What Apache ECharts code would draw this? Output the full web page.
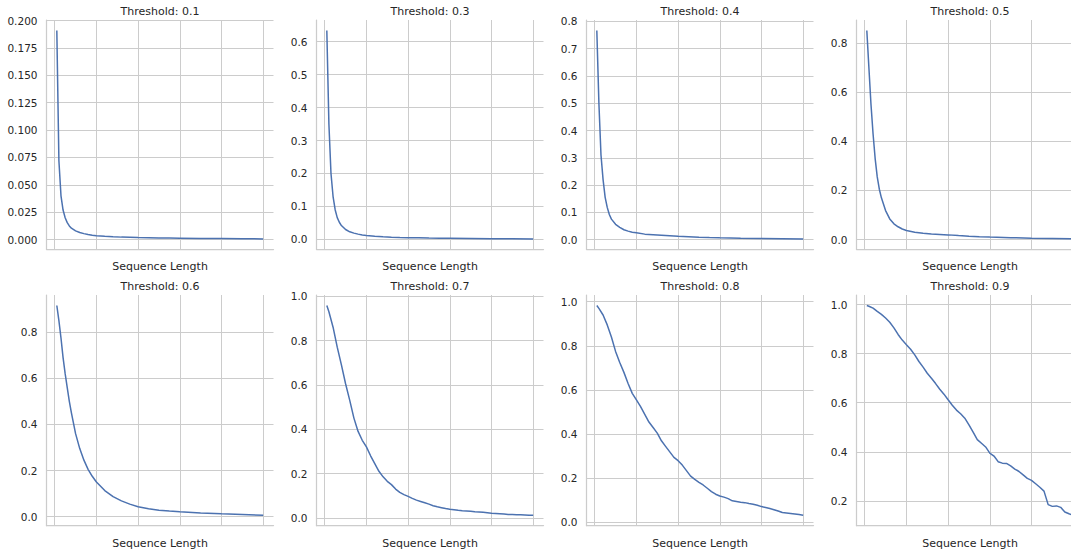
<!DOCTYPE html>
<html>
<head>
<meta charset="utf-8">
<script src="https://cdn.jsdelivr.net/npm/echarts@6/dist/echarts.min.js"></script>
<style>
  html, body { margin: 0; padding: 0; background: #ffffff; }
  #chart { width: 1071px; height: 553px; }
</style>
</head>
<body>
<div id="chart"></div>
<script>
// Sequence lengths (x values). Smooth decays use a sparse grid, the noisier ones a denser grid.
const seqLenSparse = [1, 2, 3, 4, 5, 6, 7, 8, 10, 12, 14, 16, 18, 20, 24, 28, 32, 36, 40, 45, 50, 55, 60, 70, 80, 90, 100];
const seqLenDense = [1, 2, 4, 6, 8, 10, 12, 14, 16, 18, 20, 22, 24, 26, 28, 30, 32, 34, 36, 38, 40,
  42, 44, 46, 48, 50, 52, 54, 56, 58, 60, 62, 64, 66, 68, 70, 72, 74, 76, 78, 80,
  82, 84, 86, 88, 90, 92, 94, 96, 98, 100];

// Fraction of sequences still above each threshold
const thr01 = [0.191, 0.072, 0.040, 0.027, 0.020, 0.0155, 0.0125, 0.0105, 0.0080, 0.0065, 0.0055, 0.0047, 0.0041, 0.0036,
  0.0030, 0.0026, 0.0023, 0.0021, 0.0019, 0.0017, 0.0015, 0.0014, 0.0013, 0.0011, 0.0010, 0.0008, 0.0007];
const thr03 = [0.634, 0.35, 0.20, 0.13, 0.09, 0.066, 0.052, 0.042, 0.030, 0.023, 0.019, 0.016, 0.0135, 0.012,
  0.0095, 0.008, 0.0068, 0.006, 0.0053, 0.0047, 0.0042, 0.0038, 0.0034, 0.0028, 0.0023, 0.0019, 0.0016];
const thr04 = [0.767, 0.50, 0.31, 0.22, 0.155, 0.118, 0.092, 0.075, 0.056, 0.045, 0.036, 0.031, 0.027, 0.025,
  0.020, 0.018, 0.016, 0.014, 0.012, 0.0105, 0.009, 0.0078, 0.0068, 0.0053, 0.0042, 0.0033, 0.0026];
const thr05 = [0.852, 0.70, 0.55, 0.43, 0.33, 0.255, 0.205, 0.17, 0.118, 0.084, 0.064, 0.052, 0.043, 0.037,
  0.030, 0.026, 0.023, 0.021, 0.019, 0.016, 0.0135, 0.0115, 0.010, 0.0075, 0.0055, 0.004, 0.0027];
const thr06 = [0.916, 0.85, 0.775, 0.69, 0.62, 0.56, 0.50, 0.45, 0.36, 0.295, 0.245, 0.205, 0.175, 0.15,
  0.113, 0.087, 0.068, 0.054, 0.043, 0.034, 0.028, 0.024, 0.021, 0.016, 0.012, 0.009, 0.006];
const thr07 = [0.958, 0.93, 0.86, 0.77, 0.69, 0.605, 0.53, 0.45, 0.39, 0.35, 0.32, 0.28, 0.245, 0.21, 0.185, 0.165,
  0.15, 0.13, 0.115, 0.105, 0.097, 0.088, 0.08, 0.074, 0.068, 0.062, 0.055, 0.05, 0.046, 0.042, 0.039,
  0.037, 0.034, 0.032, 0.031, 0.030, 0.028, 0.027, 0.025, 0.023, 0.021, 0.020, 0.019, 0.017, 0.015, 0.015,
  0.014, 0.014, 0.013, 0.012, 0.012];
const thr08 = [0.983, 0.97, 0.94, 0.895, 0.84, 0.775, 0.725, 0.68, 0.63, 0.585, 0.555, 0.525, 0.49, 0.455, 0.43, 0.405,
  0.37, 0.345, 0.32, 0.295, 0.28, 0.26, 0.235, 0.21, 0.195, 0.182, 0.17, 0.155, 0.14, 0.128, 0.12,
  0.115, 0.108, 0.098, 0.095, 0.092, 0.09, 0.086, 0.083, 0.078, 0.072, 0.068, 0.063, 0.058, 0.052, 0.045,
  0.043, 0.041, 0.039, 0.036, 0.033];
const thr09 = [0.996, 0.993, 0.985, 0.972, 0.96, 0.945, 0.928, 0.905, 0.878, 0.855, 0.836, 0.818, 0.795, 0.768, 0.745, 0.72,
  0.70, 0.678, 0.655, 0.635, 0.612, 0.59, 0.57, 0.555, 0.537, 0.51, 0.48, 0.45, 0.435, 0.42, 0.395,
  0.383, 0.36, 0.354, 0.353, 0.343, 0.33, 0.32, 0.306, 0.292, 0.284, 0.27, 0.256, 0.24, 0.185, 0.178,
  0.18, 0.174, 0.155, 0.148, 0.142];

// Tick positions
const xTicks = [0, 20, 40, 60, 80, 100];
const ticks01 = [0, 0.025, 0.05, 0.075, 0.1, 0.125, 0.15, 0.175, 0.2];
const ticks03 = [0, 0.1, 0.2, 0.3, 0.4, 0.5, 0.6];
const ticks04 = [0, 0.1, 0.2, 0.3, 0.4, 0.5, 0.6, 0.7, 0.8];
const ticks05 = [0, 0.2, 0.4, 0.6, 0.8];
const ticks10 = [0, 0.2, 0.4, 0.6, 0.8, 1.0];
const ticks09 = [0.2, 0.4, 0.6, 0.8, 1.0];

const titles = ['Threshold: 0.1', 'Threshold: 0.3', 'Threshold: 0.4', 'Threshold: 0.5',
  'Threshold: 0.6', 'Threshold: 0.7', 'Threshold: 0.8', 'Threshold: 0.9'];

const panels = [
  { x: seqLenSparse, y: thr01, ticks: ticks01, digits: 3 },
  { x: seqLenSparse, y: thr03, ticks: ticks03, digits: 1 },
  { x: seqLenSparse, y: thr04, ticks: ticks04, digits: 1 },
  { x: seqLenSparse, y: thr05, ticks: ticks05, digits: 1 },
  { x: seqLenSparse, y: thr06, ticks: ticks05, digits: 1 },
  { x: seqLenDense, y: thr07, ticks: ticks10, digits: 1 },
  { x: seqLenDense, y: thr08, ticks: ticks10, digits: 1 },
  { x: seqLenDense, y: thr09, ticks: ticks09, digits: 1 }
];

const FONT = 'DejaVu Sans';
const TEXT = '#262626';
const GRID = '#cccccc';
const LINE = '#4c72b0';

const LEFT0 = 46.5, COL_STEP = 270, PANEL_W = 227;
const rows = [
  { top: 20, height: 229.3, titleY: 11 },
  { top: 295, height: 230.7, titleY: 286 }
];

// 5% padding on both ends of each data range
function padded(arr) {
  const lo = Math.min.apply(null, arr), hi = Math.max.apply(null, arr);
  const p = 0.05 * (hi - lo);
  return [lo - p, hi + p];
}

const grids = [], xAxes = [], yAxes = [], series = [], graphics = [];
panels.forEach(function (pn, i) {
  const col = i % 4, row = Math.floor(i / 4);
  const left = LEFT0 + COL_STEP * col;
  const r = rows[row];
  const xr = padded(pn.x), yr = padded(pn.y);

  // the right-hand column runs past the page edge, so no fitting into the container
  grids.push({ left: left, top: r.top, width: PANEL_W, height: r.height,
    containLabel: false, outerBoundsMode: 'none' });

  xAxes.push({
    type: 'value', gridIndex: i, min: xr[0], max: xr[1],
    axisLine: { show: true, onZero: false, lineStyle: { color: GRID, width: 1.25 } },
    axisTick: { show: false, customValues: xTicks },
    axisLabel: { show: false },
    splitLine: { show: true, lineStyle: { color: GRID, width: 1 } },
    name: 'Sequence Length', nameLocation: 'middle', nameGap: 12,
    nameTextStyle: { fontFamily: FONT, fontSize: 11, color: TEXT }
  });

  yAxes.push({
    type: 'value', gridIndex: i, min: yr[0], max: yr[1],
    axisLine: { show: true, onZero: false, lineStyle: { color: GRID, width: 1.25 } },
    axisTick: { show: false, customValues: pn.ticks },
    axisLabel: {
      customValues: pn.ticks, margin: 9, fontFamily: FONT, fontSize: 10.5, color: TEXT,
      formatter: (function (d) { return function (v) { return Number(v).toFixed(d); }; })(pn.digits)
    },
    splitLine: { show: true, lineStyle: { color: GRID, width: 1 } }
  });

  series.push({
    type: 'line', xAxisIndex: i, yAxisIndex: i,
    data: pn.x.map(function (xv, k) { return [xv, pn.y[k]]; }),
    showSymbol: false, symbol: 'none', smooth: false,
    lineStyle: { color: LINE, width: 1.5 },
    z: 3
  });

  graphics.push({
    type: 'text', x: left + PANEL_W / 2, y: r.titleY,
    style: {
      text: titles[i], fill: TEXT, font: '11px "' + FONT + '"',
      align: 'center', verticalAlign: 'middle',
      textAlign: 'center', textVerticalAlign: 'middle'
    }
  });
});

const chart = echarts.init(document.getElementById('chart'), null, { renderer: 'svg' });
chart.setOption({
  animation: false,
  backgroundColor: '#ffffff',
  grid: grids,
  xAxis: xAxes,
  yAxis: yAxes,
  series: series,
  graphic: graphics
});
</script>
</body>
</html>
